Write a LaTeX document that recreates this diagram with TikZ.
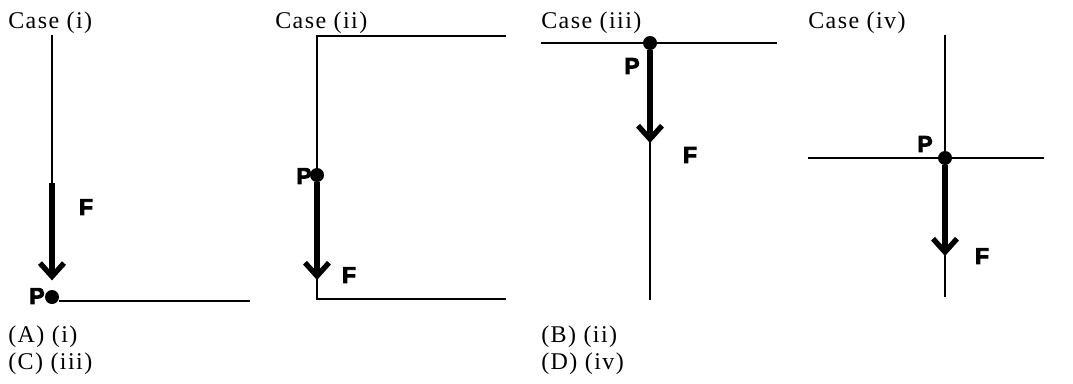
\documentclass[tikz,border=0pt]{standalone}
\usepackage{fontspec}
\setmainfont{Liberation Serif}[LetterSpace=6]
\newfontfamily\lblfont{Liberation Sans}[BoldFont={Liberation Sans Bold},BoldFeatures={FakeBold=4}]
\usetikzlibrary{arrows.meta,positioning}

\begin{document}
\begin{tikzpicture}[
  x=0.75pt, y=-0.75pt,
  ln/.style={line width=2pt},
  force/.style={line width=5pt, -{Straight Barb[length=10pt,width=18pt,line width=4pt]}},
  dot/.style={circle, fill, inner sep=0pt, minimum size=10.5pt},
  cas/.style={anchor=base west, inner sep=0pt, font=\fontsize{18}{21}\selectfont},
  lbl/.style={inner sep=0pt, font=\lblfont\bfseries\fontsize{17}{20}\selectfont}
]
\useasboundingbox (0,0) rectangle (1073,383);

% Headings
\node[cas] (H1) at (8,28) {Case (i)};
\node[cas] (H2) at (275,28) {Case (ii)};
\node[cas] (H3) at (541,28) {Case (iii)};
\node[cas] (H4) at (808,28) {Case (iv)};

% Case (i)
\coordinate (TOP1) at (52,35);
\coordinate (T1) at (52,183);
\node[dot] (DOT1) at (52,297) {};
\coordinate (R1) at (250,301);
\draw[ln] (TOP1) -- (T1);
\draw[ln] (DOT1.east |- R1) -- (R1);
\draw[force, shorten >=7pt] (T1) -- (DOT1);
\node[lbl] (P1) at (37,296) {P};
\node[lbl] (F1) at (86,207) {F};

% Case (ii)
\coordinate (A2) at (317,36);
\coordinate (B2) at (506,36);
\coordinate (C2) at (317,299);
\coordinate (D2) at (506,299);
\node[dot] (DOT2) at (317,175) {};
\coordinate (E2) at (317,280);
\draw[ln] (B2) -- (A2) -- (C2) -- (D2);
\draw[force] (DOT2) -- (E2);
\node[lbl] (P2) at (304,176) {P};
\node[lbl] (F2) at (349,275) {F};

% Case (iii)
\coordinate (L3) at (541,43);
\coordinate (R3) at (777,43);
\coordinate (BOT3) at (650,300);
\node[dot] (DOT3) at (650,43) {};
\coordinate (E3) at (650,143);
\draw[ln] (L3) -- (R3);
\draw[ln] (DOT3) -- (BOT3);
\draw[force] (DOT3) -- (E3);
\node[lbl] (P3) at (632,66) {P};
\node[lbl] (F3) at (690,155) {F};

% Case (iv)
\coordinate (TOP4) at (945,35);
\coordinate (BOT4) at (945,297);
\coordinate (L4) at (808,158);
\coordinate (R4) at (1044,158);
\node[dot] (DOT4) at (945,158) {};
\coordinate (E4) at (945,256);
\draw[ln] (TOP4) -- (BOT4);
\draw[ln] (L4) -- (R4);
\draw[force] (DOT4) -- (E4);
\node[lbl] (P4) at (925,144) {P};
\node[lbl] (F4) at (982,256) {F};

% Options
\node[cas] (OA) at (8,342) {(A) (i)};
\node[cas] (OB) at (541,342) {(B) (ii)};
\node[cas] (OC) at (8,369) {(C) (iii)};
\node[cas] (OD) at (541,369) {(D) (iv)};
\end{tikzpicture}
\end{document}
